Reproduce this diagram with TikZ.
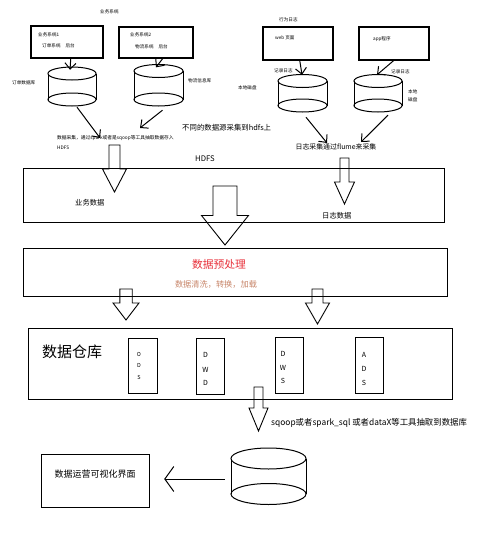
\documentclass[tikz,border=0pt]{standalone}
\usepackage{fontspec}
\setmainfont{Noto Sans CJK SC}
\usetikzlibrary{arrows.meta}
\newcommand\dbcyl[6]{%
  \node[inner sep=0, minimum width={2*#5}, minimum height={#4-#3+2*#6}] (#1) at (#2,{(#3+#4)/2}) {};
  \draw[cylline] (#2,#3) ellipse [x radius=#5, y radius=#6];
  \draw[cylline] (#2,#4) ellipse [x radius=#5, y radius=#6];
  \draw[cylline] ({#2-#5},#3) -- ({#2-#5},#4);
  \draw[cylline] ({#2+#5},#3) -- ({#2+#5},#4);}
\newcommand\blockarr[6]{%
  \draw[blk] ({#1-#5},#2) -- ({#1+#5},#2) -- ({#1+#5},#3) -- ({#1+#6},#3) -- (#1,#4)
    -- ({#1-#6},#3) -- ({#1-#5},#3) -- cycle;}
\begin{document}
\begin{tikzpicture}[x=1pt,y=-1pt,
  fs/.style={font=\fontsize{#1}{#1}\selectfont, inner sep=0},
  sysbox/.style={draw, line width=1.5pt, inner sep=0, anchor=north west},
  band/.style={draw, line width=0.9pt, inner sep=0, anchor=north west},
  layer/.style={draw, line width=0.9pt, inner sep=0, anchor=north west},
  cylline/.style={line width=1pt},
  blk/.style={line width=0.9pt},
  hand/.style={line width=1pt, -{Straight Barb[length=6pt,width=11pt,line width=1pt]}},
  bigarr/.style={line width=1pt, -{Straight Barb[length=9pt,width=25pt,line width=1pt]}}]
\useasboundingbox (0,0) rectangle (500,544);
\fill[white] (0,0) rectangle (500,544);

% ---- top left: business systems
\node[fs=4.6, anchor=west] (bizsys) at (100,12) {业务系统};
\node[sysbox, minimum width=72, minimum height=32] (box1) at (30,25) {};
\node[fs=4.6, anchor=west] (b1a) at (38,35) {业务系统1};
\node[fs=4.6, anchor=west] (b1b) at (42,46) {订单系统\hspace{5pt}后台};
\node[sysbox, minimum width=74, minimum height=31] (box2) at (118,26) {};
\node[fs=4.6, anchor=west] (b2a) at (130,35) {业务系统2};
\node[fs=4.6, anchor=west] (b2b) at (135,47) {物流系统\hspace{5pt}后台};

\dbcyl{db1}{72}{73.5}{99.5}{24}{6.5}
\dbcyl{db2}{158.5}{71}{99.5}{24.5}{6.5}
\node[fs=4.6, anchor=west] (db1l) at (12,83) {订单数据库};
\node[fs=4.6, anchor=west] (db2l) at (188,81) {物流信息库};

\draw[hand] ([xshift=4pt]box1.south) -- ([xshift=-2pt,yshift=-3pt]db1.north);
\draw[hand] ([xshift=7pt]box2.south) -- ([xshift=-2.5pt,yshift=-3pt]db2.north);

\coordinate (c1) at (100,138);
\coordinate (c2) at (140,128);
\draw[hand] ([xshift=5pt,yshift=-1pt]db1.south) -- (c1);
\draw[hand] ([xshift=4pt,yshift=-4pt]db2.south) -- (c2);

\node[fs=4.75, anchor=west] (coll) at (57,138) {数据采集，通过spark或者是sqoop等工具抽取数据存入};
\node[fs=4.75, anchor=west] (collb) at (57,148) {HDFS};
\node[fs=7.4, anchor=west] (diff) at (182,128) {不同的数据源采集到hdfs上};

% ---- top right: logs
\node[fs=4.6, anchor=west] (behav) at (279,20) {行为日志};
\node[sysbox, minimum width=70, minimum height=33] (web) at (262,26) {};
\node[fs=4.6, anchor=west] (webt) at (275,38) {web 页面};
\node[sysbox, minimum width=70, minimum height=33] (app) at (358,26) {};
\node[fs=4.6, anchor=west] (appt) at (373,39) {app程序};
\node[fs=4.6, anchor=west] (rec1) at (274,71) {记录日志};
\node[fs=4.6, anchor=west] (rec2) at (391,72) {记录日志};
\node[fs=4.6, anchor=west] (disk1) at (238,88) {本地磁盘};
\node[fs=4.6, anchor=west] (disk2a) at (408,92) {本地};
\node[fs=4.6, anchor=west] (disk2b) at (408,100) {磁盘};

\dbcyl{db3}{302.5}{81}{105.5}{24.5}{6.5}
\dbcyl{db4}{378}{81}{105.5}{24}{6.5}

\draw[hand] ([xshift=2pt]web.south) -- ([xshift=-0.5pt,yshift=-0.5pt]db3.north);
\draw[hand] ([xshift=0pt]app.south) -- ([xshift=-1pt,yshift=-0.5pt]db4.north);

\coordinate (c3) at (327,143);
\coordinate (c4) at (361,142);
\draw[hand] ([xshift=3.5pt,yshift=-5pt]db3.south) -- (c3);
\draw[hand] ([xshift=10pt,yshift=-3pt]db4.south) -- (c4);
\node[fs=6.9] (flume) at (336,147) {日志采集通过flume来采集};

% ---- HDFS
\node[fs=7.7, anchor=west] (hdfsl) at (195,159) {HDFS};
\node[band, minimum width=421, minimum height=54] (hdfs) at (23,168) {};
\blockarr{114.5}{145}{169}{192}{5.5}{12}
\blockarr{344.5}{158}{182}{204}{4.5}{10}
\node[fs=7.3, anchor=west] (biz) at (75,203) {业务数据};
\node[fs=7.3, anchor=west] (logd) at (322,216) {日志数据};
\blockarr{225}{186}{215.5}{245}{12}{23.5}

% ---- preprocessing
\node[band, minimum width=424, minimum height=48] (pre) at (23,248) {};
\node[fs=10.8, text={rgb,255:red,232;green,48;blue,58}] (pret) at (219,264) {数据预处理};
\node[fs=8.2, text={rgb,255:red,200;green,134;blue,106}] (pres) at (216,284) {数据清洗，转换，加载};
\blockarr{126}{289}{303}{320}{6.2}{13}
\blockarr{317.5}{289}{303}{324}{5.5}{12}

% ---- warehouse
\node[band, minimum width=424, minimum height=71.5] (dw) at (28,327.5) {};
\node[fs=15] (dwt) at (72,352) {数据仓库};
\node[layer, minimum width=29, minimum height=55] (ods) at (128,338) {};
\node[fs=5.5] (ods1) at (139,354) {O};
\node[fs=5.5] (ods2) at (139,365) {D};
\node[fs=5.5] (ods3) at (139,377) {S};
\node[layer, minimum width=28, minimum height=56] (dwd) at (196,338) {};
\node[fs=7] (dwd1) at (205.5,355) {D};
\node[fs=7] (dwd2) at (205.5,370) {W};
\node[fs=7] (dwd3) at (205.5,383) {D};
\node[layer, minimum width=28, minimum height=56] (dws) at (275,337) {};
\node[fs=7] (dws1) at (283,354) {D};
\node[fs=7] (dws2) at (283,368) {W};
\node[fs=7] (dws3) at (283,381) {S};
\node[layer, minimum width=28, minimum height=56] (ads) at (355,337) {};
\node[fs=7] (ads1) at (364,355) {A};
\node[fs=7] (ads2) at (364,369) {D};
\node[fs=7] (ads3) at (364,383) {S};

\blockarr{258.5}{387}{408}{431}{4.5}{9.5}
\node[fs=8.4, anchor=west] (sq) at (271,423) {sqoop或者spark\_sql 或者dataX等工具抽取到数据库};

% ---- database and visualisation
\dbcyl{db5}{268.5}{458.5}{494}{37.5}{10.5}
\node[layer, line width=1.2pt, minimum width=108, minimum height=53] (vis) at (41,454) {};
\node[fs=9] (vist) at (95,474) {数据运营可视化界面};
\coordinate (vtip) at ([xshift=14pt]vis.east |- 0,479);
\draw[bigarr] ([xshift=-6pt]db5.west |- 0,479) -- (vtip);
\end{tikzpicture}
\end{document}
